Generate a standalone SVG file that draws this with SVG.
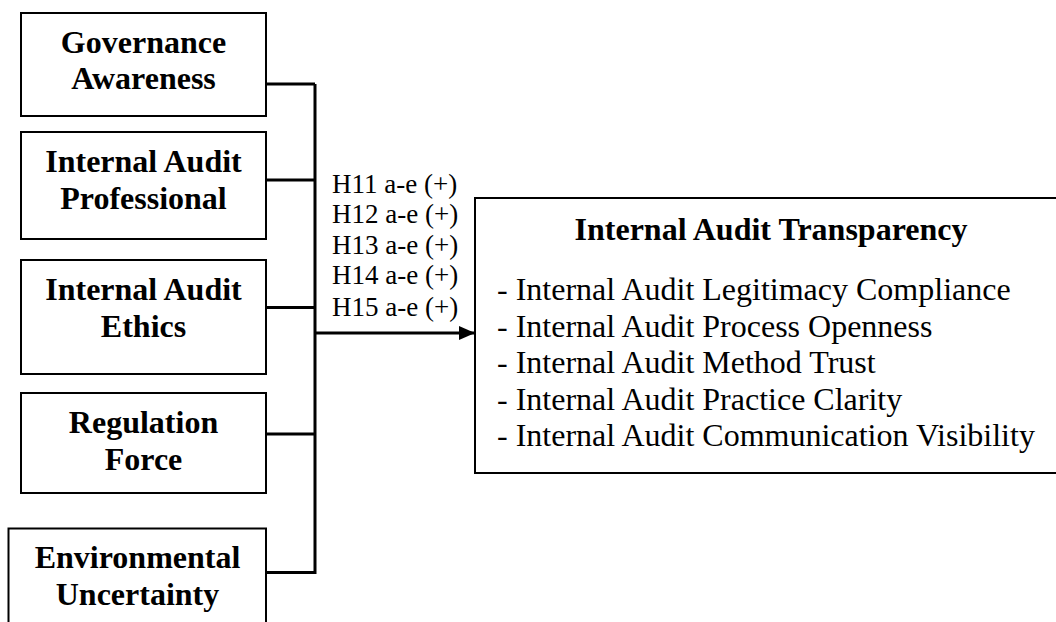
<svg xmlns="http://www.w3.org/2000/svg" width="1056" height="622" viewBox="0 0 1056 622">
<style>
.box{fill:#fff;stroke:#000;stroke-width:2}
.lbl{font-family:"Liberation Serif","Times New Roman",serif;font-weight:bold;font-size:32px;text-anchor:middle;fill:#000}
.item{font-family:"Liberation Serif","Times New Roman",serif;font-size:32px;fill:#000}
.hyp{font-family:"Liberation Serif","Times New Roman",serif;font-size:27px;fill:#000}
.ln{stroke:#000;stroke-width:3;fill:none}
</style>
<defs>
<marker id="arrowhead" markerWidth="16" markerHeight="14" refX="16" refY="7" orient="auto" markerUnits="userSpaceOnUse">
<path d="M0,0 L16,7 L0,14 Z" fill="#000"/>
</marker>
</defs>
<g id="connectors">
<line class="ln" x1="266" y1="84" x2="315" y2="84"/>
<line class="ln" x1="266" y1="180" x2="315" y2="180"/>
<line class="ln" x1="266" y1="307.5" x2="315" y2="307.5"/>
<line class="ln" x1="266" y1="434" x2="315" y2="434"/>
<line class="ln" x1="266" y1="572.5" x2="315" y2="572.5"/>
<line class="ln" x1="315" y1="84" x2="315" y2="574"/>
<line class="ln" x1="315" y1="333" x2="475" y2="333" marker-end="url(#arrowhead)"/>
</g>
<g id="governance-awareness">
<rect class="box" x="21" y="13" width="245" height="103"/>
<text class="lbl" x="143.5" y="53">Governance</text>
<text class="lbl" x="143.5" y="89">Awareness</text>
</g>
<g id="internal-audit-professional">
<rect class="box" x="21" y="132" width="245" height="107"/>
<text class="lbl" x="143.5" y="172">Internal Audit</text>
<text class="lbl" x="143.5" y="209">Professional</text>
</g>
<g id="internal-audit-ethics">
<rect class="box" x="21" y="260" width="245" height="114"/>
<text class="lbl" x="143.5" y="300">Internal Audit</text>
<text class="lbl" x="143.5" y="337">Ethics</text>
</g>
<g id="regulation-force">
<rect class="box" x="21" y="393" width="245" height="100"/>
<text class="lbl" x="143.5" y="433">Regulation</text>
<text class="lbl" x="143.5" y="470">Force</text>
</g>
<g id="environmental-uncertainty">
<rect class="box" x="8.5" y="528.5" width="257.5" height="100"/>
<text class="lbl" x="137.5" y="568">Environmental</text>
<text class="lbl" x="137.5" y="605">Uncertainty</text>
</g>
<g id="hypotheses">
<text class="hyp" x="332" y="193">H11 a-e (+)</text>
<text class="hyp" x="332" y="223">H12 a-e (+)</text>
<text class="hyp" x="332" y="254">H13 a-e (+)</text>
<text class="hyp" x="332" y="284">H14 a-e (+)</text>
<text class="hyp" x="332" y="316">H15 a-e (+)</text>
</g>
<g id="internal-audit-transparency">
<rect class="box" x="475" y="198" width="590" height="275"/>
<text class="lbl" x="771" y="240">Internal Audit Transparency</text>
<text class="item" x="497" y="300">- Internal Audit Legitimacy Compliance</text>
<text class="item" x="497" y="337">- Internal Audit Process Openness</text>
<text class="item" x="497" y="373">- Internal Audit Method Trust</text>
<text class="item" x="497" y="410">- Internal Audit Practice Clarity</text>
<text class="item" x="497" y="446">- Internal Audit Communication Visibility</text>
</g>
</svg>
